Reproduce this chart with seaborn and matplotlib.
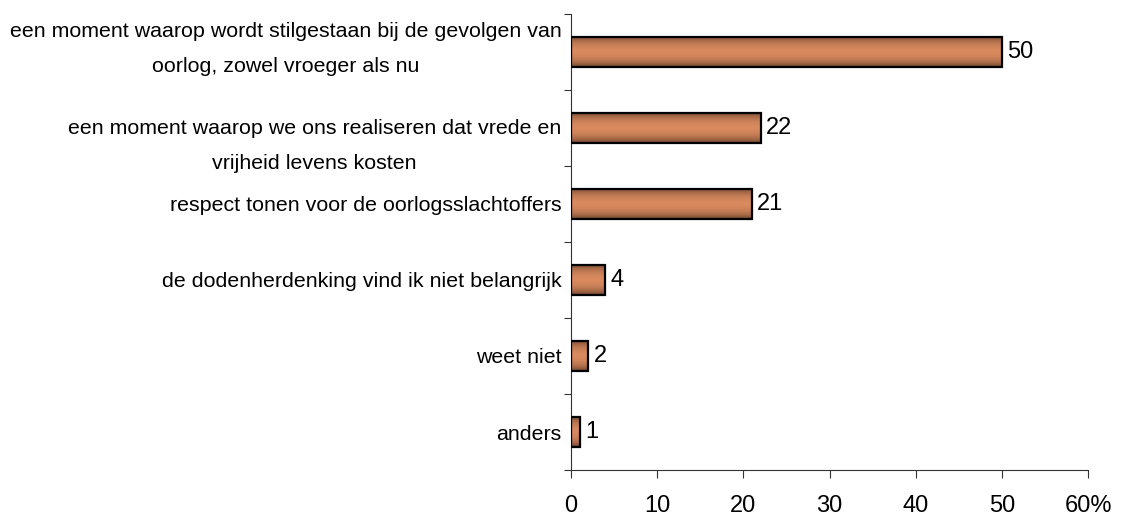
import numpy as np
import matplotlib.pyplot as plt
import matplotlib.colors as mcolors
import matplotlib.transforms as mtransforms
import seaborn as sns

labels = [
    'een moment waarop wordt stilgestaan bij de gevolgen van\noorlog, zowel vroeger als nu',
    'een moment waarop we ons realiseren dat vrede en\nvrijheid levens kosten',
    'respect tonen voor de oorlogsslachtoffers',
    'de dodenherdenking vind ik niet belangrijk',
    'weet niet',
    'anders',
]
values = [50, 22, 21, 4, 2, 1]
xticks = [0, 10, 20, 30, 40, 50, 60]
xticklabels = ['0', '10', '20', '30', '40', '50', '60%']

sns.set_theme(style='white')
plt.rcParams['font.family'] = ['Liberation Sans', 'DejaVu Sans']

fig = plt.figure(figsize=(11.24, 5.12), dpi=100)
ax = fig.add_axes([0.508, 0.082, 0.460, 0.891])

sns.barplot(x=values, y=labels, orient='h', width=0.4, color='#d4855b', ax=ax)

# vertical gradient inside each bar: dark edges, light orange middle
t = np.linspace(0, 1, 64)
w = np.sin(np.pi * t) ** 0.6
dark = np.array(mcolors.to_rgb('#5e3a26'))
light = np.array(mcolors.to_rgb('#d98a5e'))
grad = dark[None, :] * (1 - w[:, None]) + light[None, :] * w[:, None]
grad = grad[:, None, :]

for p in ax.patches:
    x0, y0 = p.get_x(), p.get_y()
    bw, bh = p.get_width(), p.get_height()
    im = ax.imshow(grad, extent=[x0, x0 + bw, y0 + bh, y0], aspect='auto',
                   zorder=2, interpolation='bilinear')
    im.set_clip_path(p)
    p.set_facecolor('none')
    p.set_edgecolor('black')
    p.set_linewidth(1.6)
    p.set_zorder(3)
    ax.text(x0 + bw + 0.6, y0 + bh / 2, str(int(bw)), va='center', ha='left',
            fontsize=17, color='black')

ax.set_xlim(0, 60)
ax.set_ylim(5.5, -0.5)
ax.set_xticks(xticks)
ax.set_xticklabels(xticklabels, fontsize=17, color='black')
ax.tick_params(axis='x', direction='out', length=6, width=0.8, color='#333333', pad=12, bottom=True)

ax.set_yticks(range(len(labels)))
ax.set_yticklabels(labels, fontsize=15.4, multialignment='center', linespacing=2.1, color='black')
ax.tick_params(axis='y', which='major', length=0, pad=7)
ax.set_yticks(np.arange(-0.5, 6, 1), minor=True)
ax.tick_params(axis='y', which='minor', direction='out', length=5, width=0.8, color='#333333', left=True)

# the two wrapped labels sit a bit off-centre in the original
shifts = [0.13, -0.08]
for lab, dy in zip(ax.get_yticklabels()[:2], shifts):
    lab.set_transform(lab.get_transform() + mtransforms.ScaledTranslation(0, dy, fig.dpi_scale_trans))

ax.set_xlabel('')
ax.set_ylabel('')
for s in ['top', 'right']:
    ax.spines[s].set_visible(False)
for s in ['left', 'bottom']:
    ax.spines[s].set_color('#333333')
    ax.spines[s].set_linewidth(0.8)

fig.savefig('out.png', dpi=100)
